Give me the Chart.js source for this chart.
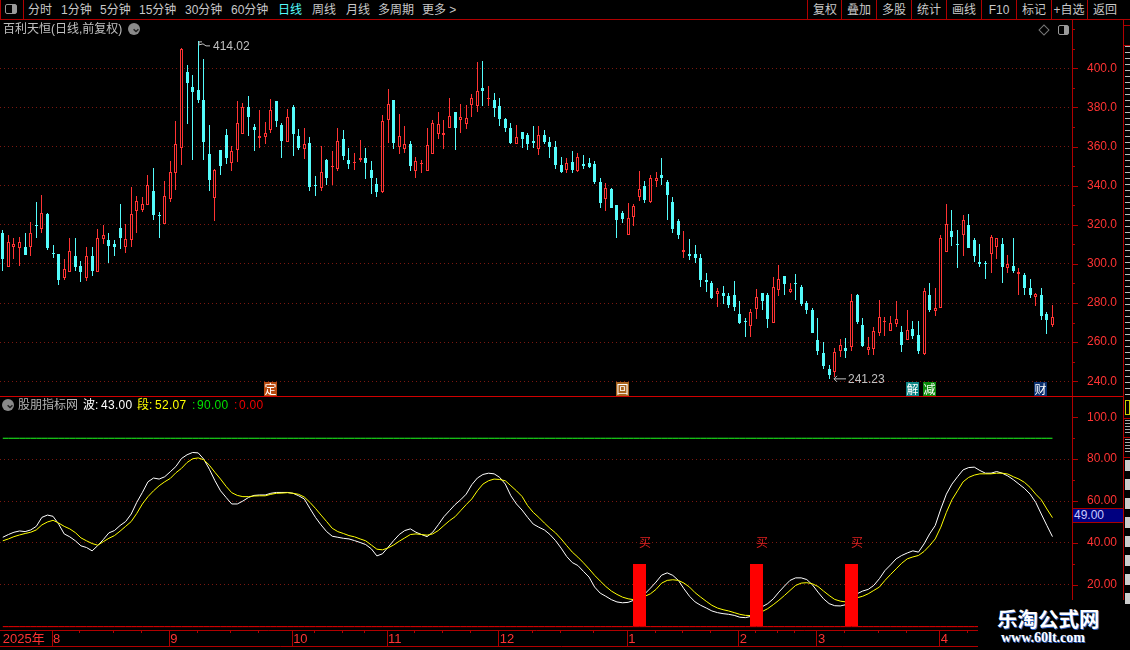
<!DOCTYPE html>
<html>
<head>
<meta charset="utf-8">
<title>百利天恒</title>
<script src="https://cdn.jsdelivr.net/npm/chart.js@4"></script>
<style>
  html, body { margin: 0; padding: 0; background: #000; overflow: hidden; }
  #page { position: relative; width: 1130px; height: 650px; background: #000; overflow: hidden;
          font: 12px "Liberation Sans", "Noto Sans CJK SC", sans-serif; color: #c8c8c8; }
  #page canvas { position: absolute; left: 0; }
  .txt { position: absolute; white-space: nowrap; line-height: 14px; }
  .line { position: absolute; background: #b00000; }
  .btn { position: absolute; top: 3px; width: 34px; text-align: center; line-height: 14px; }
  #mark { position: absolute; left: 978px; top: 600px; width: 152px; height: 50px; background: #000; z-index: 5; }
  #mark .cn { position: absolute; left: 19px; top: 6px; font: bold 20.5px "Noto Sans CJK SC", sans-serif; line-height: 24px;
              color: #fff; text-shadow: 1px 1px 0 #3060c0; white-space: nowrap; }
  #mark .en { position: absolute; left: 23px; top: 30px; font: bold 14px "Liberation Serif", serif; line-height: 16px;
              color: #fff; text-shadow: 1px 1px 0 #3060c0; white-space: nowrap; }
</style>
</head>
<body>
<div id="page">
  <canvas id="priceChart" width="1123" height="377" style="top:20px"></canvas>
  <canvas id="indexChart" width="1123" height="253" style="top:397px"></canvas>
  <div id="overlay"></div>
  <div id="mark"><div class="cn">乐淘公式网</div><div class="en">www.60lt.com</div></div>
</div>

<script>
// candles, one entry per trading day, Aug 2025 to Apr 2026
const openPrices = [
  315.6,298.6,308.9,307.9,308.9,308.4,320,317.6,325.3,305.6,
  305.3,293,296,303.8,299.1,293,303.8,296,312.5,312,
  310.4,318.6,308.9,312,326.8,327.4,329.9,337.1,324.8,320.2,
  333,346.5,359.3,398.1,390.4,388.9,383.8,356,333.9,358.1,
  365.8,351.4,358.1,366.3,380.2,369.9,364.3,364.8,368.4,383.2,
  370.9,362.2,380.2,365.3,358.6,361.7,340.5,338.6,353,349.7,
  348.4,363.7,353,351.7,353,354,347.8,340.7,336.6,373.5,
  383.8,359.6,358.6,361.2,347.3,351.6,347.3,356,366.3,365.8,
  369.4,377.6,373.5,371.4,381.2,380.7,389.9,384.5,383.8,380.7,
  374,369.4,361.2,367.3,365.8,362.7,358.6,365.8,362.2,359.6,
  350.4,347.8,352,347.3,350.9,351.4,350.9,341.7,333,338.1,
  329.9,325.8,315,324.2,334,339.6,331.4,342.2,345.3,341.7,
  331.9,321.7,306.2,305.3,305.3,303.2,292,290.4,284.8,285.3,
  283.7,284.3,274.5,270.8,268.4,277.1,285.3,284.3,269.9,286.8,
  294,285.8,290.4,288.4,280.2,276.6,261.2,254.5,246.3,244.8,
  255.5,257.1,257.6,284.3,268.9,256,256.6,264.8,270.6,265.8,
  269.4,265.3,261.2,266.8,263.7,254,284.3,275.9,277.6,306.3,
  316.6,310.4,315,319.7,312,301.2,300.5,305.3,308.4,310.4,
  298.1,299.1,295,294.5,287.9,283.2,284.3,274.5,268.9
];
const closePrices = [
  302.7,311.4,310.4,311.4,304.8,315.6,319.7,325.8,307.9,305.3,
  292,297.4,306.8,298.6,296,303.8,296.6,313,315,309.4,
  308.9,313.5,312.5,325.3,332,330.4,340.2,324.8,324.5,334.5,
  346.8,361.5,409.9,392.5,387.9,383.8,362.2,342.7,347.8,349.9,
  354,357.6,372,380.2,375,368.4,365.3,366.8,378.6,373,
  362.7,375,366.3,359.1,361.2,339.1,340.3,346.8,343.7,349.9,
  362.7,355,350.9,351.9,354,351.4,343.7,336.6,373,381.7,
  361.7,365.3,361.2,349.9,352.5,351.8,360.7,372,371.4,366.8,
  375.5,369.4,375,374.5,384.8,388.4,388.4,384.7,379.6,374,
  369.4,361.7,364.8,363.7,361.2,361.7,365.8,362.2,359.6,350.4,
  346.8,351.4,347.8,354.5,349.9,349.4,341.7,330.9,338.6,328.4,
  322.7,323.2,323.7,329.4,338.1,332.5,343.7,343.7,343.7,335,
  318,315,307.2,304.3,303.2,292,290.9,282.7,286.3,283.7,
  279.1,278.1,269.9,270.6,275.5,283.2,281.2,272,288.4,292.5,
  289.9,287.3,290.2,279.6,276.6,264.8,255.5,247.8,243.2,255,
  258.6,255.5,281.2,270.4,258.1,257.6,265.8,273,270.8,269.9,
  272,258.6,266.3,263.2,255.5,286.3,276.6,277.6,313.5,320.2,
  314,310.1,322.2,307.9,304.3,300.2,300.2,314,313,298.6,
  300.2,296.6,296,287.9,284.3,284.8,273.5,271.4,273
];
const highPrices = [
  317.1,315,313,314,316,321.2,331.5,335,325.8,309.9,
  305.3,302.7,313,313,301.7,308.9,308.9,318.1,319.7,315.6,
  312,330.4,320.2,339.1,334.5,334,345.3,348.9,326.3,342.2,
  352.5,373,410.4,401.7,396.6,414.02,404.8,370.9,348.3,358.1,
  368.9,360.2,383.2,382.2,385.8,371.4,378.6,372.5,384.3,383.2,
  372,379.1,381.2,368.9,369.4,364.8,344.8,360.2,353.5,357.6,
  369.4,368.4,359.1,356.6,363.2,359.1,352.5,343.7,376.1,389.4,
  383.8,376.6,370.4,362.7,354.5,353,369.4,373.5,377.6,373.5,
  384.8,377.6,381.7,381.2,386.8,403.2,403.8,390.9,387.3,384.8,
  374.5,372,370.9,367.3,366.8,370.4,370.4,368.4,364.8,362.7,
  354.5,354,357.6,356.6,355.5,354,352.5,343.7,341.2,338.6,
  329.9,326.8,330.9,330.4,347.3,342.2,345.3,346.8,354,342.7,
  334,323.2,316.6,312.5,309.9,305.3,295.6,291.4,287.9,288.9,
  285.3,291.4,281.2,272.5,277.1,287.3,285.3,285.3,293.5,299.6,
  294,290.4,295,289.4,281.2,277.6,272.5,260.2,248.4,257.1,
  261.7,262.2,284.8,284.8,272.5,262.7,267.8,281.7,273,273.5,
  281.2,268.4,276.6,270.9,270.9,287.9,290.4,287.9,315,330.4,
  327.8,317.1,324.8,325.3,313.5,310.4,301.7,315,313.5,313.5,
  304.8,313.5,298.1,295.6,292.5,285.3,287.9,275.5,279.1
];
const lowPrices = [
  296.6,298.6,302.7,299.1,304.8,304.3,313.5,316,307.2,303.2,
  289.4,292,296,296.6,290.9,291.4,294,296,310.4,300.7,
  304.3,307.4,305.8,308.4,315.6,326.7,329.9,322.7,313.5,320.2,
  331.4,338,350.4,371.3,353,382.2,353,337.1,321.7,345.3,
  350.9,347.3,352,366.3,365.3,357.6,359.1,361.2,366.8,369.9,
  354,362.2,355,358.1,353.5,337.1,334.5,337.1,340.2,340.2,
  347.3,353,348.4,347.9,351.9,343.2,335.6,334,336,361.7,
  358.6,356,356.6,347.3,343.7,346.3,347.3,356,363.7,358.6,
  369.4,358.1,366.8,368.9,375,377.6,380.7,380.7,375,370.4,
  367.3,361.2,361.2,359.1,358.1,359.1,355.5,361.2,354,348.4,
  346.3,346.3,346.3,346.8,348.4,348.9,340.7,328.4,327.3,328.4,
  313,320.7,315,319.3,332,331,331,339.1,340.2,322.7,
  316,312.5,303.2,302.2,300.7,288.4,285.8,282.2,278.1,279.6,
  277.6,276,269.4,262.7,262.7,272,276.6,267.3,269.9,283.7,
  284.3,285.3,281.7,278.6,274.5,264.8,253.5,246.3,241.23,242.2,
  252.5,251.9,255.5,269.4,257.6,253.5,253.5,263.2,263.2,265.8,
  267.8,255,261.2,261.7,253.9,253.5,275.5,273.5,277.6,306.3,
  309.4,298.1,304.3,307.9,301.2,298.6,292.5,295.6,302.7,290.4,
  295.6,295.6,284.3,284.3,282.7,278.6,271.4,264.3,267.8
];

// indicator series
const boSeries = [
  42.7,44,45.1,45.7,45.4,46.2,47.9,52.2,53.3,52.7,
  49,44.3,42.9,41,38.6,37.8,36.2,38.7,41.6,44.8,
  45.9,48.3,50.2,53.8,59.4,64.1,69.2,71,70.5,71.6,
  74,76.5,80.3,82.1,83.2,83,80,75.2,69.7,64.9,
  61.7,58.6,58.6,60,61.7,62.7,62.9,62.9,63.7,64.1,
  64.1,64.1,63.7,62.5,61,56.5,52.2,48.6,45.4,43.2,
  42.7,42.2,41.9,41.1,40.2,39.2,37.2,33.8,34.8,37.9,
  41.1,44,45.9,46.7,45.1,44,43,45.1,48.7,52.5,
  55.4,58.3,60.6,63.3,67.8,71,72.7,73.3,73,71.3,
  68.1,62.5,58.6,55.7,52.2,49,47.5,46.2,44,41.1,
  37.5,33.5,30.6,29.2,26.4,23.7,18.9,16,14.5,12.9,
  11.8,11.4,11.6,12.6,14.1,15.7,18.4,21.3,24.6,25.7,
  24.5,22.1,18.1,14.5,11.8,10.2,8.9,7.5,6.7,6.2,
  5.9,5.4,4.5,4.3,4.9,7,9.5,11,13.3,16.5,
  19.4,22.1,23.3,23.3,22.5,20,16.5,13.3,11,10,
  9.9,10.5,12,15.7,17,17.8,19.7,22.9,26.8,29.5,
  32.4,34,35.2,36.2,35.6,39.5,44.3,48.3,56.2,63.3,
  68.1,71.6,74.9,76,76.2,74.6,73.3,73.3,74.1,73.3,
  72,70.2,68.1,66,63.3,59.4,53.8,48.3,43
];
const duanSeries = [
  41,41.9,43,43.8,44.5,45.1,46.2,48.6,50,50.8,
  49.5,47.9,46.7,44.9,42.4,41,39.7,38.9,40.6,42.2,
  43.5,45.6,47.9,50.2,54.1,58.6,62.1,64.9,67.3,69.2,
  70.8,73.5,75.6,78.4,80.2,80.6,79.7,77.1,73.7,70.5,
  67,64,62.7,62.1,62.1,62.4,62.5,62.5,63.2,63.7,
  63.8,64,63.7,63.2,61.9,59.4,56.5,53.3,50.2,47,
  45.4,44.5,43.5,42.9,41.9,41,39,37,36.7,37.6,
  39,40.8,42.4,44,44.3,44,43.7,44.3,45.9,48.3,
  50.6,52.5,55.4,58.3,61,64.9,68.1,69.7,70.5,70.3,
  69.7,67.3,64.9,62.2,57.8,54.6,52.2,49.5,47,44.8,
  41.9,38.7,35.6,33.2,30.5,27.6,24.5,21.8,19.2,17,
  15.4,14.1,13.3,12.9,13.3,14.5,15.7,17.8,20.8,22.1,
  22.4,22.1,20.8,18.9,16.2,14.1,12.1,10.2,8.9,8.1,
  7.5,6.7,5.9,5.4,5.3,6.2,7.2,8.6,10.5,12.6,
  14.9,17.3,19.7,20.8,21,20.5,19.2,17,14.9,13,
  12.2,11.8,12.9,13.8,14.5,15.7,17.3,18.9,22.1,24.9,
  27.6,30.3,32.4,33.3,34,35.9,38.7,41.9,47.5,54.6,
  60.6,64.9,69.2,71.3,72.4,73,73,73,73.3,73.3,
  72.9,71.6,70.5,68.9,66.5,63.3,60.6,56.2,52.07
];
const upperLevel = 90;
const lowerLevel = 0;

// buy signals
const buyDays = [114, 135, 152];
const buyHeight = 30;
const buyText = '买';
const buyTextLevel = 40;

// event badges under the candles
const eventDays = [48, 111, 163, 166, 186];
const eventTexts = ['定', '回', '解', '减', '财'];
const eventColors = ['#b84a10', '#a8641e', '#0b8585', '#0b8a0b', '#0a2f6e'];

// time axis
const slotCount = 192; // a few empty days are left on the right
const monthDays = [0, 9, 30, 52, 69, 89, 112, 132, 146, 168];
const monthTexts = ['2025年', '8', '9', '10', '11', '12', '1', '2', '3', '4'];
const minorDays = [14, 20, 25, 35, 41, 46, 56, 61, 65, 74, 79, 84, 95, 100, 106, 117, 122, 127, 135, 139, 142, 151, 157, 162, 173];

// toolbar
const periodTexts = ['分时', '1分钟', '5分钟', '15分钟', '30分钟', '60分钟', '日线', '周线', '月线', '多周期', '更多 >'];
const periodLefts = [28, 61, 100, 139, 185, 231, 278, 312, 346, 378, 422];
const toolTexts = ['复权', '叠加', '多股', '统计', '画线', 'F10', '标记', '+自选', '返回'];
const toolLefts = [807, 841, 876, 911, 946, 981, 1016, 1051, 1087];

const RED = '#ff3333';
const CYAN = '#54fcfc';
const AXIS_RED = '#b00000';
const GRID_RED = '#7a1810';
const TICK_FONT = { family: '"Liberation Sans", sans-serif', size: 12 };
const CJK = '"Noto Sans CJK SC", sans-serif';

const slots = Array.from({ length: slotCount }, (_, i) => i);
const isUp = openPrices.map((o, i) => closePrices[i] >= o);
const candleColors = isUp.map(up => up ? RED : CYAN);

// keep bars on whole pixels, like the terminal does
const snapBars = {
  id: 'snapBars',
  afterDatasetsUpdate(chart) {
    chart.data.datasets.forEach((ds, n) => {
      if (ds.type === 'line') return;
      chart.getDatasetMeta(n).data.forEach(bar => {
        if (bar.skip) return;
        bar.x = Math.floor(bar.x) + 0.5;
        bar.y = Math.round(bar.y);
        bar.base = Math.round(bar.base);
        if (bar.base === bar.y) bar.base = bar.y + 1;
      });
    });
  }
};

function drawAxisTicks(chart, ctx, isLabelled) {
  const y = chart.scales.y;
  const left = chart.chartArea.right;
  ctx.strokeStyle = AXIS_RED;
  ctx.lineWidth = 1;
  y.ticks.forEach(t => {
    const p = Math.round(y.getPixelForValue(t.value)) + 0.5;
    ctx.beginPath();
    ctx.moveTo(left, p);
    ctx.lineTo(left + (isLabelled(t.value) ? 6 : 3), p);
    ctx.stroke();
  });
}

const isPriceLabel = v => v % 20 === 0 && v >= 240 && v <= 400;
const isIndexLabel = v => v % 20 === 0 && v >= 20 && v <= 100;

// high / low notes, event badges
const priceDecor = {
  id: 'priceDecor',
  afterDraw(chart) {
    const { ctx, scales: { x, y }, chartArea } = chart;
    ctx.save();
    drawAxisTicks(chart, ctx, isPriceLabel);

    const maxHigh = Math.max(...highPrices);
    const minLow = Math.min(...lowPrices);
    const hx = Math.floor(x.getPixelForValue(highPrices.indexOf(maxHigh)));
    const hy = y.getPixelForValue(maxHigh);
    const lx = Math.floor(x.getPixelForValue(lowPrices.indexOf(minLow)));
    const ly = y.getPixelForValue(minLow);
    ctx.strokeStyle = '#c0c0c0';
    ctx.fillStyle = '#c0c0c0';
    ctx.lineWidth = 1;
    ctx.beginPath();
    ctx.moveTo(hx + 4, hy + 1); ctx.lineTo(hx + 1, hy + 1); ctx.lineTo(hx + 1, hy + 4); ctx.lineTo(hx + 5, hy + 3);
    ctx.lineTo(hx + 8, hy + 5); ctx.lineTo(hx + 12, hy + 5);
    ctx.moveTo(lx + 5, ly); ctx.lineTo(lx + 17, ly);
    ctx.moveTo(lx + 8, ly - 3); ctx.lineTo(lx + 5, ly); ctx.lineTo(lx + 8, ly + 3);
    ctx.stroke();
    ctx.font = '12px "Liberation Sans", sans-serif';
    ctx.textAlign = 'left';
    ctx.textBaseline = 'middle';
    ctx.fillText(maxHigh.toFixed(2), hx + 15, hy + 6);
    ctx.fillText(minLow.toFixed(2), lx + 19, ly + 1);

    const bottom = chartArea.bottom;
    ctx.font = '12px ' + CJK;
    ctx.textAlign = 'center';
    eventDays.forEach((d, i) => {
      const cx = Math.round(x.getPixelForValue(d));
      ctx.fillStyle = eventColors[i];
      ctx.fillRect(cx - 7, bottom - 15, 13, 14);
      ctx.fillStyle = '#fff';
      ctx.fillText(eventTexts[i], cx - 0.5, bottom - 8);
    });
    ctx.restore();
  }
};

// buy text, month separators on the time strip
const indexDecor = {
  id: 'indexDecor',
  afterDraw(chart) {
    const { ctx, scales: { x, y }, chartArea } = chart;
    ctx.save();
    drawAxisTicks(chart, ctx, isIndexLabel);

    ctx.font = '12px ' + CJK;
    ctx.fillStyle = '#e02020';
    ctx.textAlign = 'left';
    ctx.textBaseline = 'middle';
    buyDays.forEach(d => ctx.fillText(buyText, Math.floor(x.getPixelForValue(d)), y.getPixelForValue(buyTextLevel)));

    const top = chartArea.bottom;
    ctx.strokeStyle = AXIS_RED;
    ctx.lineWidth = 1;
    ctx.beginPath();
    ctx.moveTo(0, top + 16.5);
    ctx.lineTo(chart.width, top + 16.5);
    monthDays.slice(1).forEach(d => {
      const p = Math.floor(x.getPixelForValue(d)) - 0.5;
      ctx.moveTo(p, top);
      ctx.lineTo(p, top + 16);
    });
    minorDays.forEach(d => {
      const p = Math.floor(x.getPixelForValue(d)) - 0.5;
      ctx.moveTo(p, top);
      ctx.lineTo(p, top + 3);
    });
    ctx.stroke();
    ctx.restore();
  }
};

function yScale(min, max, isLabel, hasGrid, digits) {
  return {
    position: 'right',
    min: min,
    max: max,
    afterFit(scale) {
      scale.width = 51;
      scale.paddingTop = 0;
      scale.paddingBottom = 0;
    },
    border: { display: true, color: AXIS_RED, width: 1, dash: [1, 3] },
    grid: {
      drawTicks: false,
      color: ctx => hasGrid(ctx.tick.value) ? GRID_RED : 'transparent'
    },
    ticks: {
      stepSize: 10,
      includeBounds: false,
      autoSkip: false,
      padding: 15,
      color: RED,
      font: TICK_FONT,
      callback: v => isLabel(v) ? digits(v) : ''
    }
  };
}

const baseOptions = {
  responsive: false,
  animation: false,
  events: [],
  layout: { padding: 0 },
  plugins: { legend: { display: false }, tooltip: { enabled: false } }
};

new Chart(document.getElementById('priceChart'), {
  type: 'bar',
  plugins: [snapBars, priceDecor],
  data: {
    labels: slots,
    datasets: [
      {
        label: 'body',
        order: 1,
        grouped: false,
        barThickness: 3,
        data: openPrices.map((o, i) => [Math.min(o, closePrices[i]), Math.max(o, closePrices[i])]),
        backgroundColor: isUp.map(up => up ? '#000' : CYAN),
        borderColor: candleColors,
        borderWidth: 1,
        borderSkipped: false,
        inflateAmount: 0
      },
      {
        label: 'wick',
        order: 2,
        grouped: false,
        barThickness: 1,
        data: lowPrices.map((l, i) => [l, highPrices[i]]),
        backgroundColor: candleColors,
        borderWidth: 0,
        inflateAmount: 0
      }
    ]
  },
  options: {
    ...baseOptions,
    scales: {
      x: { display: false },
      y: yScale(231.96, 424.7, isPriceLabel, v => v >= 240 && v <= 400 && v % 20 === 0, v => v.toFixed(1))
    }
  }
});

new Chart(document.getElementById('indexChart'), {
  type: 'bar',
  plugins: [snapBars, indexDecor],
  data: {
    labels: slots,
    datasets: [
      {
        label: 'buy',
        order: 0,
        grouped: false,
        barThickness: 13,
        data: boSeries.map((_, i) => buyDays.includes(i) ? buyHeight : null),
        backgroundColor: '#ff0000',
        borderWidth: 0,
        inflateAmount: 0
      },
      { type: 'line', label: '波', order: 2, data: boSeries, borderColor: '#ffffff', borderWidth: 1, pointRadius: 0, tension: 0 },
      { type: 'line', label: '段', order: 1, data: duanSeries, borderColor: '#ffff00', borderWidth: 1, pointRadius: 0, tension: 0 },
      { type: 'line', label: 'upper', order: 3, data: boSeries.map(() => upperLevel), borderColor: '#1eff1e', borderWidth: 1, pointRadius: 0 },
      { type: 'line', label: 'lower', order: 3, data: boSeries.map(() => lowerLevel), borderColor: '#ee0000', borderWidth: 1, pointRadius: 0 }
    ]
  },
  options: {
    ...baseOptions,
    scales: {
      x: {
        afterFit(scale) {
          scale.height = 20;
          scale.paddingLeft = 0;
          scale.paddingRight = 0;
        },
        border: { display: true, color: AXIS_RED, width: 1 },
        grid: { display: false, drawTicks: false },
        ticks: {
          autoSkip: false,
          maxRotation: 0,
          align: 'start',
          padding: 2,
          color: RED,
          font: { family: '"Liberation Sans", "Noto Sans CJK SC", sans-serif', size: 13 },
          callback: v => monthDays.includes(v) ? monthTexts[monthDays.indexOf(v)] : ''
        }
      },
      y: yScale(-1.6, 109.7, isIndexLabel, v => v >= 20 && v <= 80 && v % 20 === 0, v => v.toPrecision(4))
    }
  }
});

// everything around the charts: toolbar, pane titles, frame
const overlay = document.getElementById('overlay');

function addText(text, left, top, color, extra) {
  const el = document.createElement('div');
  el.className = 'txt';
  el.innerText = text;
  el.style.left = left + 'px';
  el.style.top = top + 'px';
  if (color) el.style.color = color;
  if (extra) el.style.cssText += extra;
  overlay.appendChild(el);
}

function addLine(left, top, width, height, color) {
  const el = document.createElement('div');
  el.className = 'line';
  el.style.cssText = `left:${left}px;top:${top}px;width:${width}px;height:${height}px;` + (color ? `background:${color};` : '');
  overlay.appendChild(el);
}

periodTexts.forEach((t, i) => addText(t, periodLefts[i], 3, t === '日线' ? CYAN : '#c8c8c8'));
toolTexts.forEach((t, i) => {
  const el = document.createElement('div');
  el.className = 'btn';
  el.innerText = t;
  el.style.left = toolLefts[i] + 1 + 'px';
  overlay.appendChild(el);
  addLine(toolLefts[i], 0, 1, 19);
});
addLine(0, 19, 1130, 1);
addLine(23, 0, 1, 19);
addLine(0, 0, 1, 19);
addLine(0, 396, 1123, 1, '#d00000');
addLine(1123, 20, 1, 580);
addLine(1123, 25, 7, 1);
addLine(1123, 45, 7, 1);
addLine(1123, 418, 7, 1);
addLine(1123, 437, 7, 1);
addLine(1123, 457, 7, 1);

// small icons
function addBox(css) {
  const el = document.createElement('div');
  el.style.cssText = 'position:absolute;box-sizing:border-box;' + css;
  overlay.appendChild(el);
  return el;
}
addBox('left:5px;top:4px;width:12px;height:10px;border:1px solid #999;border-radius:2px;background:linear-gradient(90deg,#000 60%,#999 60%)');
addBox('left:1058px;top:25px;width:11px;height:10px;border:1px solid #999;border-radius:2px;background:linear-gradient(90deg,#000 55%,#999 55%)');
addBox('left:1040px;top:26px;width:8px;height:8px;border:1px solid #777;transform:rotate(45deg)');
[[128, 23], [2, 399]].forEach(p => {
  addBox(`left:${p[0]}px;top:${p[1]}px;width:12px;height:12px;border-radius:50%;background:#8a8a8a`);
  addText('⌄', p[0] + 3, p[1] - 2, '#222', 'font-weight:bold;');
});

// pane titles
addText('百利天恒(日线,前复权)', 3, 22, '#c0c0c0');
addText('股朋指标网', 18, 398, '#b4b4b4');
addText('波:', 83, 398, '#ffffff');
addText(boSeries[boSeries.length - 1].toFixed(2), 101, 398, '#ffffff', 'letter-spacing:.3px;');
addText('段:', 137, 398, '#ffff00');
addText(duanSeries[duanSeries.length - 1].toFixed(2), 155, 398, '#ffff00', 'letter-spacing:.3px;');
addText(':', 192, 398, '#00e000');
addText(upperLevel.toFixed(2), 197, 398, '#00e000', 'letter-spacing:.3px;');
addText(':', 234, 398, '#ee0000');
addText(lowerLevel.toFixed(2), 239, 398, '#ee0000', 'letter-spacing:.3px;');

// crosshair value on the axis
addBox('left:1073px;top:508px;width:50px;height:15px;background:#000080;border-top:1px solid #a00;border-bottom:1px solid #a00');
addText('49.00', 1074, 508, '#c8c8ff');

// clipped side panel at the right edge
addBox('left:1125px;top:46px;width:5px;height:350px;background:repeating-linear-gradient(180deg,#bbb 0 1px,#000 1px 6px)');
addBox('left:1125px;top:460px;width:5px;height:147px;z-index:6;background:repeating-linear-gradient(180deg,#ccc 0 11px,#000 11px 19px)');
addBox('left:1125px;top:400px;width:5px;height:15px;border:1px solid #cccc00');
addBox('left:1125px;top:420px;width:5px;height:15px;background:repeating-linear-gradient(180deg,#aaa 0 1px,#000 1px 3px)');
addBox('left:1125px;top:439px;width:5px;height:15px;background:repeating-linear-gradient(180deg,#aaa 0 1px,#000 1px 3px)');
</script>
</body>
</html>
